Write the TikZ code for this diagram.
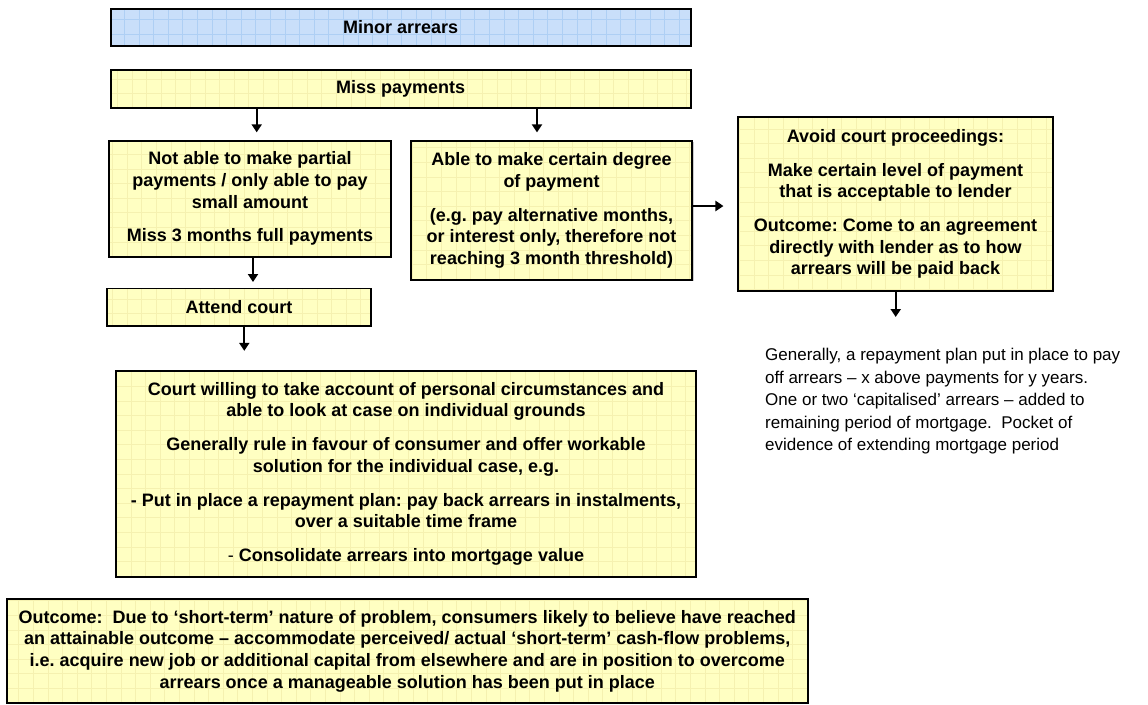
\documentclass[tikz,border=0pt]{standalone}
\usepackage{fontspec}
\setmainfont{Liberation Sans}
\usetikzlibrary{arrows.meta,shadows}
\definecolor{yfill}{HTML}{FFFFC2}
\definecolor{ygrid}{HTML}{F5F1B0}
\definecolor{bfill}{HTML}{C9DFFA}
\definecolor{bgrid}{HTML}{AECFF4}
\frenchspacing
\tikzset{
  gridbox/.style={draw=black, line width=1.7pt, inner sep=0pt, align=center,
    font=\fontsize{18}{21.7}\selectfont\bfseries,
    drop shadow={shadow xshift=1.2pt, shadow yshift=-1.2pt, fill=black!40},
    path picture={\draw[#1, line width=0.5pt, step=14.6pt]
      (path picture bounding box.south west) grid (path picture bounding box.north east);}},
  ybox/.style={gridbox=ygrid, fill=yfill},
  bbox/.style={gridbox=bgrid, fill=bfill},
  arr/.style={line width=2.2pt, -{Triangle[width=10pt,length=8pt]}},
  plain/.style={inner sep=0pt, align=left, font=\fontsize{17}{22.5}\selectfont}
}
\begin{document}
\begin{tikzpicture}[x=1pt,y=-1pt]
\useasboundingbox (0,0) rectangle (1148,704);
\node[bbox, minimum width=580pt, minimum height=36.7pt] (minor) at (400.7,27.4) {Minor arrears};
\node[ybox, minimum width=580pt, minimum height=37.4pt] (miss) at (400.7,89) {Miss payments};
\node[ybox, minimum width=281.4pt, minimum height=116pt] (notable) at (250,198.7)
  {Not able to make partial\\ payments / only able to pay\\ small amount\\[12pt] Miss 3 months full payments};
\node[ybox, minimum width=281.6pt, minimum height=139.3pt] (able) at (551.5,210.4)
  {Able to make certain degree\\ of payment\\[12pt] (e.g. pay alternative months,\\ or interest only, therefore not\\ reaching 3 month threshold)};
\node[ybox, minimum width=314.4pt, minimum height=173.4pt] (avoid) at (895.5,204)
  {Avoid court proceedings:\\[12pt] Make certain level of payment\\ that is acceptable to lender\\[12pt] Outcome: Come to an agreement\\ directly with lender as to how\\ arrears will be paid back};
\node[ybox, minimum width=263.4pt, minimum height=37.7pt] (attend) at (239,307.2) {Attend court};
\node[ybox, minimum width=580pt, minimum height=206pt] (court) at (406,473.7)
  {Court willing to take account of personal circumstances and\\ able to look at case on individual grounds\\[12pt]
   Generally rule in favour of consumer and offer workable\\ solution for the individual case, e.g.\\[12pt]
   - Put in place a repayment plan: pay back arrears in instalments,\\ over a suitable time frame\\[12pt]
   {\mdseries -} Consolidate arrears into mortgage value};
\node[ybox, minimum width=801.3pt, minimum height=103.4pt] (outcome) at (407.3,651)
  {Outcome:\ \ Due to ‘short-term’ nature of problem, consumers likely to believe have reached\\
   an attainable outcome – accommodate perceived/ actual ‘short-term’ cash-flow problems,\\
   i.e. acquire new job or additional capital from elsewhere and are in position to overcome\\
   arrears once a manageable solution has been put in place};
\node[plain, anchor=north west] (plan) at (765,348)
  {Generally, a repayment plan put in place to pay\\ off arrears – x above payments for y years.\\
   One or two ‘capitalised’ arrears – added to\\ remaining period of mortgage.\ \ Pocket of\\
   evidence of extending mortgage period};
\coordinate (x1) at (256.7,0);
\coordinate (x2) at (537,0);
\coordinate (x3) at (253,0);
\coordinate (x4) at (244.3,0);
\coordinate (y5) at (0,206);
\coordinate (x6) at (895.7,0);
\draw[arr, shorten >=7.5pt] (miss.south -| x1) -- (notable.north -| x1);
\draw[arr, shorten >=7.5pt] (miss.south -| x2) -- (able.north -| x2);
\draw[arr, shorten >=5.5pt] (notable.south -| x3) -- (attend.north -| x3);
\draw[arr, shorten >=19pt] (attend.south -| x4) -- (court.north -| x4);
\draw[arr, shorten >=14pt] (able.east |- y5) -- (avoid.west |- y5);
\draw[arr, shorten >=31pt] (avoid.south -| x6) -- (plan.north -| x6);
\end{tikzpicture}
\end{document}
